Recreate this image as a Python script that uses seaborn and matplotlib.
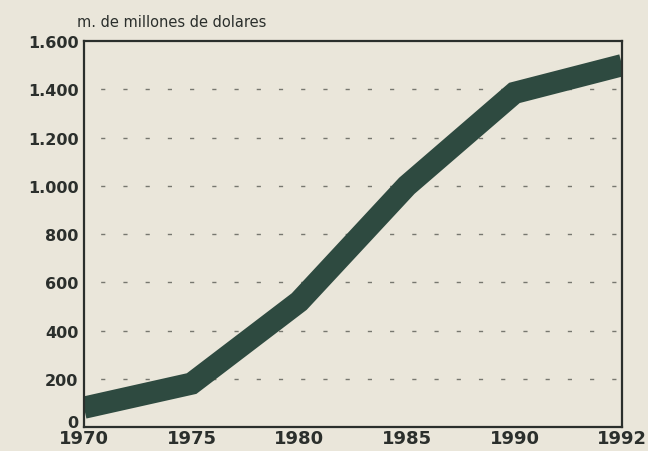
import matplotlib
matplotlib.use("Agg")
import matplotlib.pyplot as plt
import matplotlib.transforms as mtransforms
import seaborn as sns
import pandas as pd

years = ["1970", "1975", "1980", "1985", "1990", "1992"]
values = [80, 180, 520, 1000, 1385, 1500]
yticks = [0, 200, 400, 600, 800, 1000, 1200, 1400, 1600]
ytick_labels = ["0", "200", "400", "600", "800", "1.000", "1.200", "1.400", "1.600"]
unit_label = "m. de millones de dolares"

df = pd.DataFrame({"year": years, "value": values})

sns.set_theme(style="white")
plt.rcParams['font.family'] = ['DejaVu Sans']

bg = "#eae6da"
ink = "#2b2f2c"
green = "#2e4a40"

fig = plt.figure(figsize=(6.48, 4.52), dpi=100, facecolor=bg)
ax = fig.add_axes([0.1296, 0.0531, 0.8304, 0.8539])
ax.set_facecolor(bg)

sns.lineplot(data=df, x="year", y="value", sort=False, ax=ax,
             color=green, linewidth=16, solid_joinstyle="miter",
             solid_capstyle="butt")

ax.set_xlim(0, len(years) - 1)
ax.set_ylim(0, 1600)
ax.set_yticks(yticks)
ax.set_yticklabels(ytick_labels)
ax.set_xlabel("")
ax.set_ylabel("")

for y in yticks[1:-1]:
    ax.axhline(y, color="#77776f", linewidth=1.0, linestyle=(4, (3, 13)), zorder=0.5)

for s in ax.spines.values():
    s.set_color(ink)
    s.set_linewidth(1.6)
    s.set_visible(True)

ax.tick_params(axis="y", length=0, pad=4, labelsize=11.5, labelcolor=ink)
ax.tick_params(axis="x", length=0, pad=1.5, labelsize=13, labelcolor=ink)
for t in ax.get_yticklabels() + ax.get_xticklabels():
    t.set_fontweight("bold")

# nudge the "0" label up slightly so it clears the year labels
zero_lbl = ax.get_yticklabels()[0]
zero_lbl.set_transform(zero_lbl.get_transform() +
                       mtransforms.ScaledTranslation(0, 4 / 72, fig.dpi_scale_trans))

fig.text(0.119, 0.951, unit_label, fontsize=10.5, color=ink, ha="left", va="center")

fig.savefig("out.png", dpi=100, facecolor=bg)
